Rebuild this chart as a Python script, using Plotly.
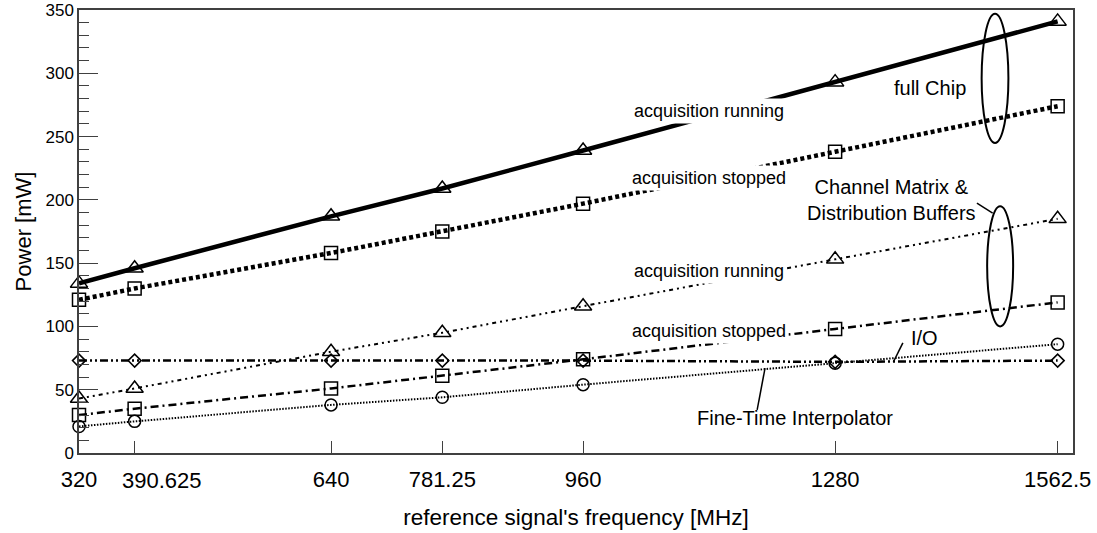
import plotly.graph_objects as go

freq = [320, 390.625, 640, 781.25, 960, 1280, 1562.5]
freq_labels = ["320", "", "640", "781.25", "960", "1280", "1562.5"]
shifted_label = "390.625"

full_running = [134, 146, 187, 209, 239, 293, 341]
full_stopped = [121, 130, 158, 175, 197, 238, 274]
cm_running = [43, 51, 80, 95, 116, 153, 185]
cm_stopped = [30, 35, 51, 61, 74, 98, 119]
io_power = [73, 73, 73, 73, 73, 72, 73]
fti_power = [21, 25, 38, 44, 54, 71, 86]

FONT = "Liberation Sans, Arial, sans-serif"

series = [
    (full_running, dict(color="black", width=4.5, dash="solid"), "triangle-up-open", 15),
    (full_stopped, dict(color="black", width=4.5, dash="4px,3px"), "square-open", 13),
    (cm_running, dict(color="black", width=2, dash="4px,4px,2px,4px,2px,4px"), "triangle-up-open", 15),
    (cm_stopped, dict(color="black", width=2.5, dash="8px,4px,2px,4px"), "square-open", 13),
    (io_power, dict(color="black", width=2.5, dash="8px,3px,2px,3px,2px,3px"), "diamond-open", 10),
    (fti_power, dict(color="black", width=2, dash="1.5px,1.5px"), "circle-open", 12),
]

fig = go.Figure()
for vals, line, sym, size in series:
    fig.add_trace(go.Scatter(
        x=freq, y=vals, mode="lines+markers", line=line,
        marker=dict(symbol=sym, size=size, color="black",
                    line=dict(color="black", width=1.5)),
        showlegend=False, cliponaxis=False,
    ))

def label(x, y, text, size, bg=True):
    fig.add_annotation(x=x, y=y, text=text, showarrow=False,
                       font=dict(family=FONT, size=size, color="black"),
                       bgcolor="white" if bg else None, borderpad=2)

label(1120, 270, "acquisition running", 18)
label(1120, 217, "acquisition stopped", 18)
label(1120, 144, "acquisition running", 18)
label(1120, 96, "acquisition stopped", 18)
label(1401, 288, "full Chip", 20, bg=False)
label(1352, 200, "Channel Matrix &<br>Distribution Buffers", 20, bg=False)
label(1394, 91, "I/O", 20, bg=False)
label(1229, 28, "Fine-Time Interpolator", 20, bg=False)

# tick label for 390.625, offset to the right as in the original
fig.add_annotation(x=freq[1], y=0, xref="x", yref="paper", text=shifted_label,
                   showarrow=False, xanchor="left", yanchor="middle",
                   xshift=-15, yshift=-27,
                   font=dict(family=FONT, size=22, color="black"))

# ellipses grouping the curves
fig.add_shape(type="circle", xref="x", yref="y", x0=1466, x1=1500, y0=245, y1=347,
              line=dict(color="black", width=2))
fig.add_shape(type="circle", xref="x", yref="y", x0=1473, x1=1506, y0=100, y1=195,
              line=dict(color="black", width=2))
# leader lines
fig.add_shape(type="line", xref="x", yref="y", x0=1460, y0=197.5, x1=1480, y1=189.6,
              line=dict(color="black", width=1.5))
fig.add_shape(type="line", xref="x", yref="y", x0=1366, y0=87, x1=1354, y1=72,
              line=dict(color="black", width=1.5))
fig.add_shape(type="line", xref="x", yref="y", x0=1191, y0=67, x1=1181, y1=34,
              line=dict(color="black", width=1.5))

fig.update_layout(
    width=1097, height=533,
    margin=dict(l=79, r=24, t=10, b=80, autoexpand=False),
    plot_bgcolor="white", paper_bgcolor="white",
    font=dict(family=FONT, color="black"),
)
fig.update_xaxes(
    range=[320, 1582], tickvals=freq, ticktext=freq_labels, tickangle=0, automargin=False,
    ticklabelstandoff=6,
    showgrid=False, zeroline=False, showline=True, linecolor="#404040", linewidth=1.5,
    mirror=True, ticks="inside", ticklen=12, tickwidth=1.2, tickcolor="#404040",
    tickfont=dict(family=FONT, size=22, color="black"),
    title=dict(text="reference signal's frequency [MHz]",
               font=dict(family=FONT, size=22.5, color="black"), standoff=18),
)
fig.update_yaxes(
    range=[0, 350], tickvals=[0, 50, 100, 150, 200, 250, 300, 350], automargin=False,
    ticklabeloverflow="allow",
    showgrid=False, zeroline=False, showline=True, linecolor="#404040", linewidth=1.5,
    mirror=True, ticks="inside", ticklen=19, tickwidth=1.2, tickcolor="#404040",
    minor=dict(dtick=10, ticks="inside", ticklen=10, tickwidth=1.2, tickcolor="#404040", showgrid=False),
    tickfont=dict(family=FONT, size=17, color="black"),
    title=dict(text="Power [mW]", font=dict(family=FONT, size=22, color="black"), standoff=8),
)

fig.write_html("out.html", config={"displayModeBar": False},
               post_script="document.body.style.margin='0';")
